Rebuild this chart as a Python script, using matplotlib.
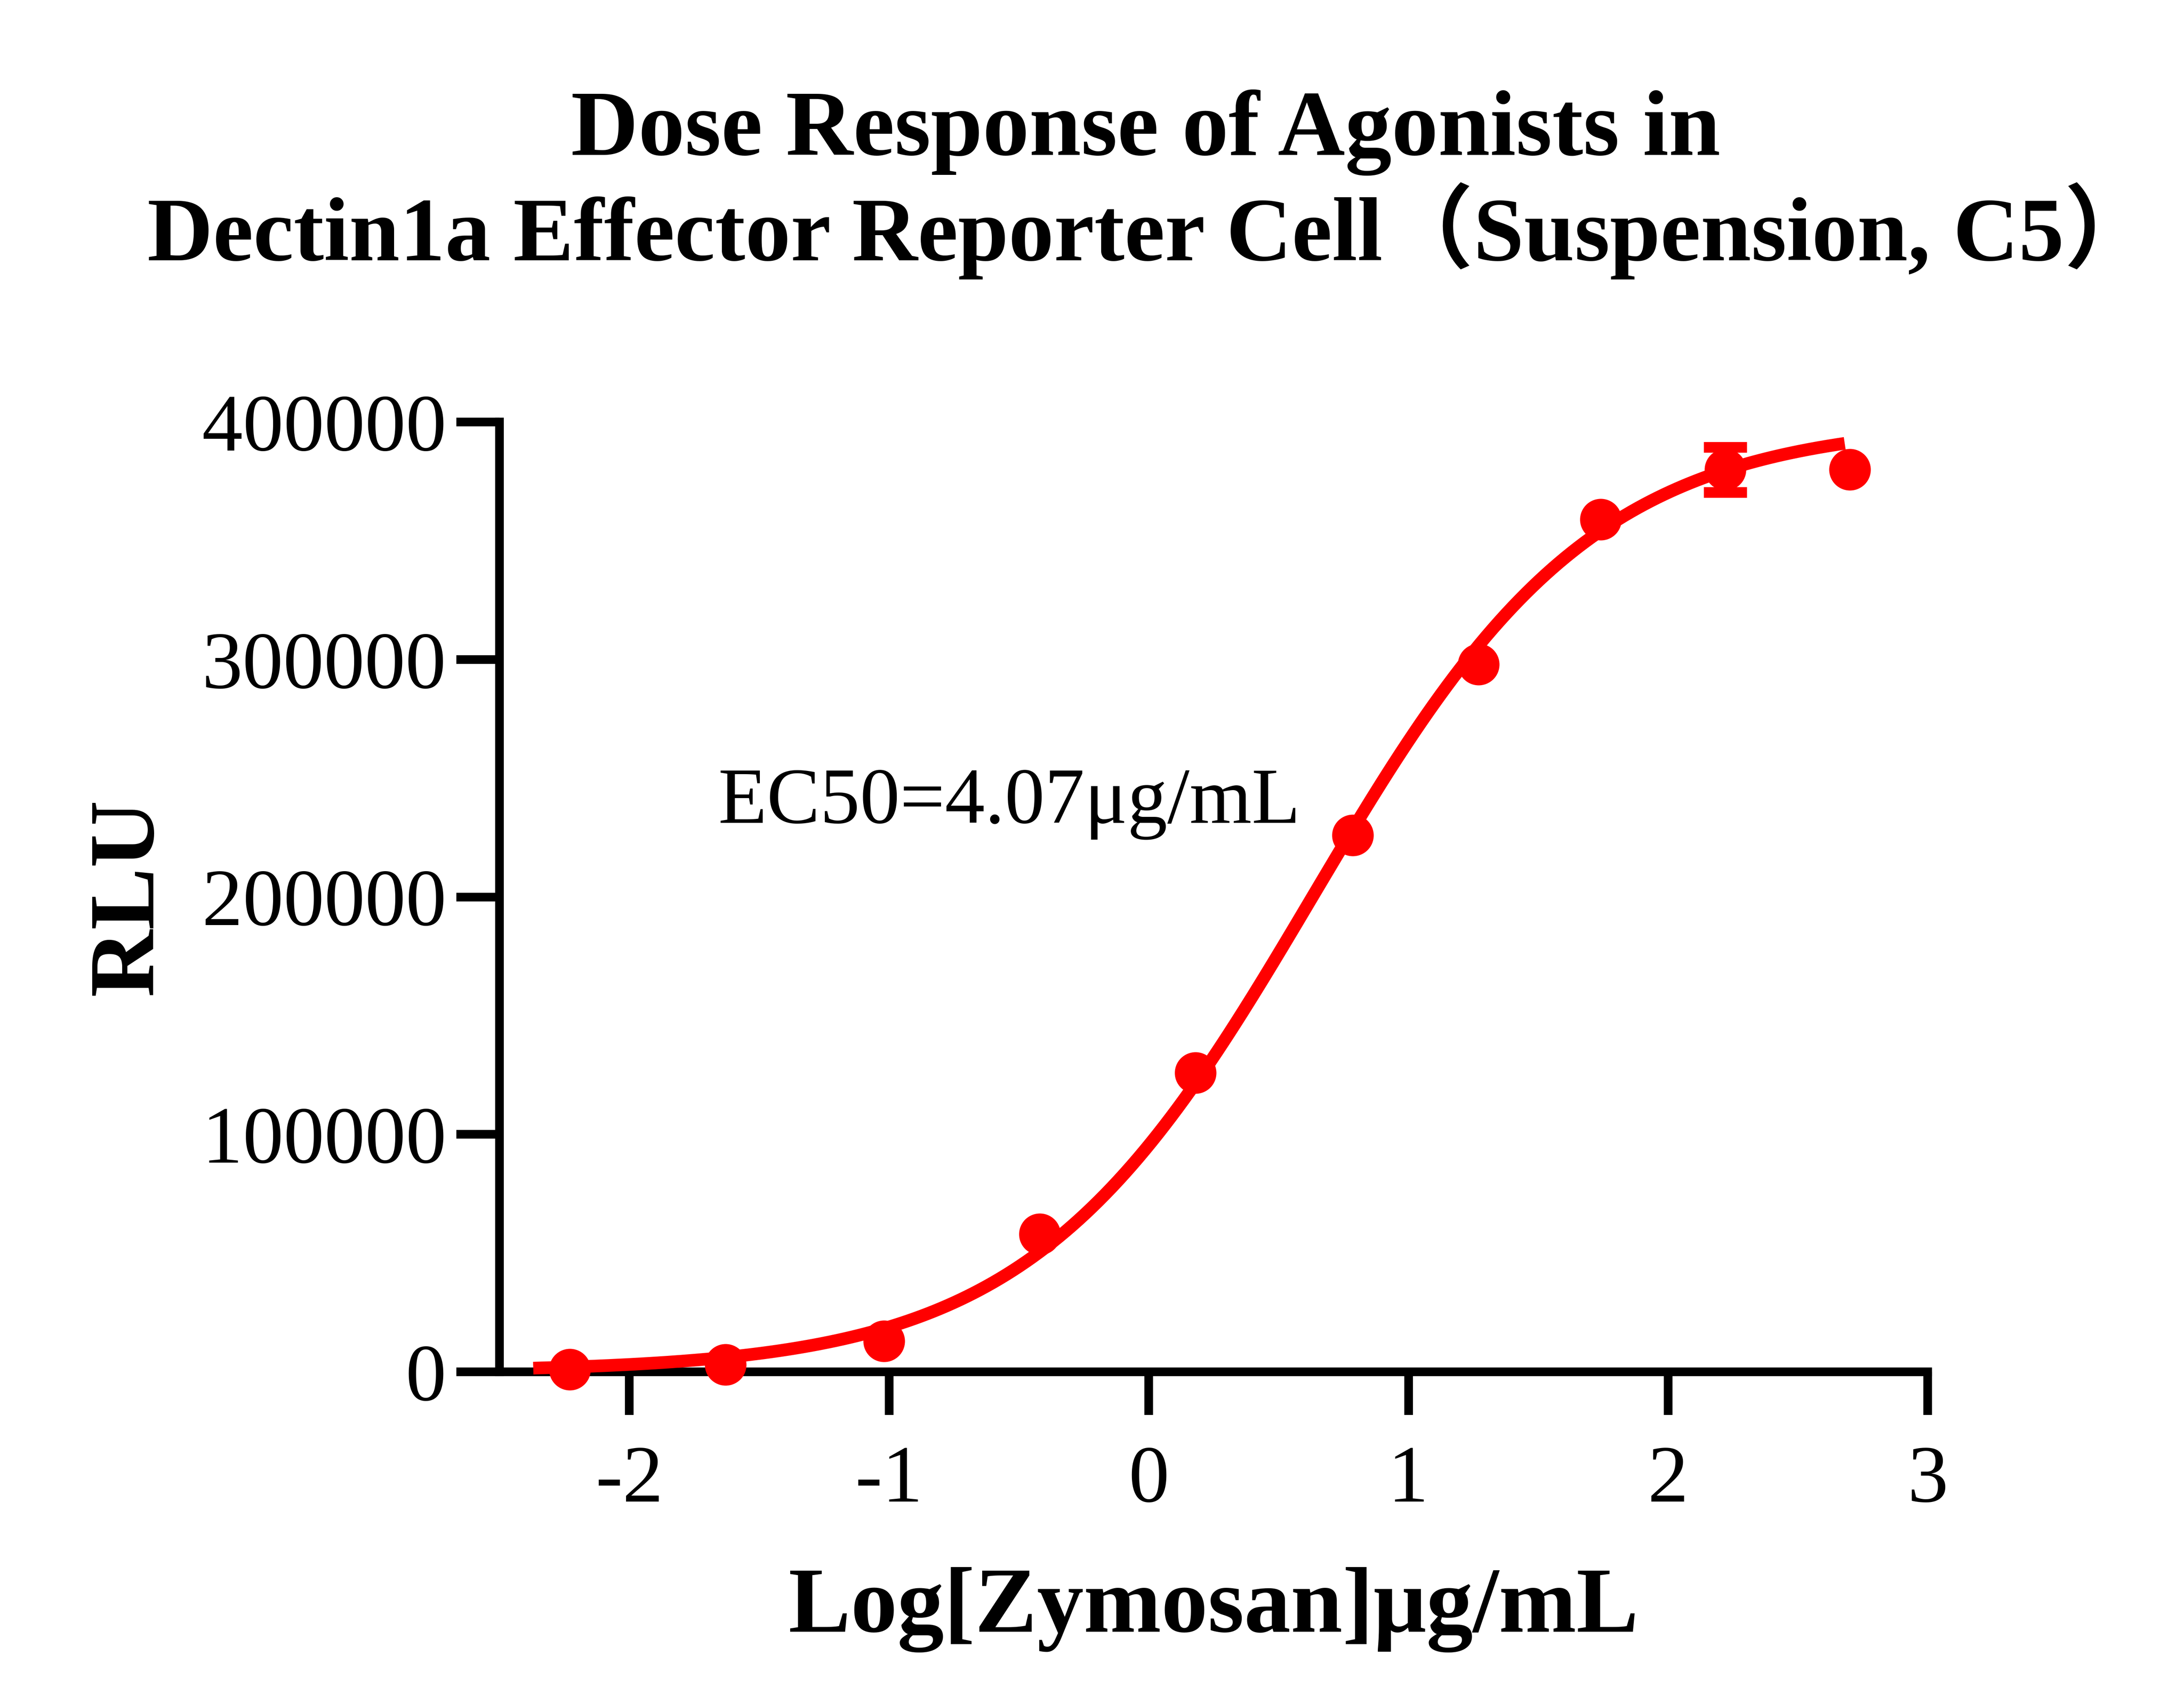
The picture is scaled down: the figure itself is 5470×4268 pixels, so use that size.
import numpy as np
import matplotlib
matplotlib.use("Agg")
import matplotlib.pyplot as plt

# data (log10 concentration, RLU mean, SD)
log_conc = [-2.23, -1.63, -1.02, -0.42, 0.18, 0.785, 1.27, 1.74, 2.22, 2.70]
rlu_mean = [1000, 3000, 13000, 58000, 126000, 226000, 298000, 359000, 380000, 380000]
rlu_sd = [0, 0, 0, 0, 0, 0, 0, 0, 9500, 0]

# 4PL fit parameters
fit_bottom = 0.0
fit_top = 400000.0
fit_logec50 = 0.63
fit_hill = 0.8
fit_range = (-2.37, 2.68)

xticks = [-2, -1, 0, 1, 2, 3]
yticks = [0, 100000, 200000, 300000, 400000]

title_lines = ["Dose Response of Agonists in",
               "Dectin1a Effector Reporter Cell（Suspension, C5）"]
xlabel = "Log[Zymosan]μg/mL"
ylabel = "RLU"
ec50_text = "EC50=4.07μg/mL"

RED = "#ff0000"
serif = ["Liberation Serif", "Noto Sans CJK SC", "DejaVu Serif"]
plt.rcParams['font.family'] = serif

W, H = 5470, 4268
dpi = 600
fig = plt.figure(figsize=(W / dpi, H / dpi), dpi=dpi)
ax = fig.add_axes([0.2287, 0.1949, 0.8827 - 0.2287, 0.7523 - 0.1949])

xs = np.linspace(fit_range[0], fit_range[1], 400)
ys = fit_bottom + (fit_top - fit_bottom) / (1 + 10 ** ((fit_logec50 - xs) * fit_hill))
ax.plot(xs, ys, color=RED, lw=3.8, solid_capstyle='butt', zorder=3, clip_on=False)

ax.plot(log_conc, rlu_mean, 'o', color=RED, ms=11.5, zorder=4, clip_on=False)
err_idx = [i for i, s in enumerate(rlu_sd) if s > 0]
ax.errorbar([log_conc[i] for i in err_idx], [rlu_mean[i] for i in err_idx],
            yerr=[rlu_sd[i] for i in err_idx], fmt='none', ecolor=RED,
            elinewidth=2.6, capsize=6.5, capthick=3.2, zorder=4, clip_on=False)

ax.set_xlim(-2.5, 3.0)
ax.set_ylim(0, 400000)
ax.set_xticks(xticks)
ax.set_xticklabels([str(t) for t in xticks])
ax.set_yticks(yticks)
ax.set_yticklabels([str(t) for t in yticks])

for s in ['top', 'right']:
    ax.spines[s].set_visible(False)
for s in ['left', 'bottom']:
    ax.spines[s].set_linewidth(2.6)
    ax.spines[s].set_color('black')
    ax.spines[s].set_capstyle('projecting')
ax.tick_params(axis='both', direction='out', length=13, width=2.6, labelsize=24.5, colors='black')
ax.tick_params(axis='x', pad=9)
ax.tick_params(axis='y', pad=3)

ax.set_xlabel(xlabel, fontsize=28, fontweight='bold', labelpad=14.5)
ax.set_ylabel(ylabel, fontsize=28, fontweight='bold', labelpad=9)

ax.text(0.153, 0.578, ec50_text, transform=ax.transAxes, fontsize=24, ha='left', va='baseline')

fig.text(0.5245, 1 - 110 / 1211, title_lines[0], fontsize=28, fontweight='bold', ha='center', va='baseline')
fig.text(0.527, 1 - 185 / 1211, title_lines[1], fontsize=27.3, fontweight='bold', ha='center', va='baseline')

fig.savefig("out.png", dpi=dpi, facecolor='white')
